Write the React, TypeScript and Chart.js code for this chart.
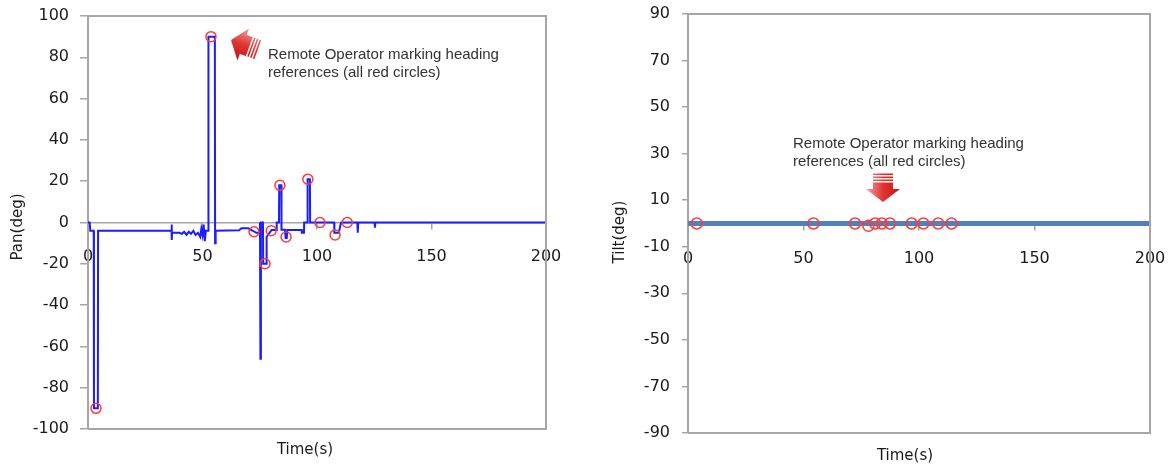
import React, { useEffect, useRef } from "react";
import { Chart, registerables } from "chart.js";

Chart.register(...registerables);

// ---------- data ----------
const timeTicks = [0, 50, 100, 150, 200];
const panTicks = [-100, -80, -60, -40, -20, 0, 20, 40, 60, 80, 100];
const tiltTicks = [-90, -70, -50, -30, -10, 10, 30, 50, 70, 90];

const panTime = [
  0, 0.7, 1.0, 2.5, 2.6, 4.3, 4.4, 36.5, 36.55, 36.6, 36.7, 40, 41, 42, 43, 44, 45, 46, 47, 48, 49, 49.5, 50,
  50.5, 51, 51.5, 52.5, 52.6, 55.4, 55.5, 55.7, 55.8, 66, 67, 70, 72, 73.5, 75.0, 75.1, 75.3, 75.5, 76.4,
  76.5, 77.8, 78.0, 80.2, 82.3, 82.4, 83.4, 83.5, 84.4, 84.5, 86, 86.3, 86.8, 87, 93.3, 93.4, 94.3, 94.4,
  95.8, 95.9, 96.9, 97, 107.5, 107.6, 109.5, 110.5, 117.6, 117.8, 118, 125.1, 125.3, 125.5, 200,
];
const panValue = [
  0, 0, -4, -4, -90, -90, -4, -4, -1, -8.5, -5, -5, -5.5, -4.5, -6, -4.5, -5.5, -4, -6, -5, -7, -3, -6,
  -1, -9, -4, -4, 90, 90, -10, -10, -4, -3.8, -2.8, -2.8, -4, -5, -5, 0, -66, 0, 0,
  -20, -20, -6.9, -3.6, -3.6, 0, 0, 18, 18, -3.5, -3.5, -7.5, -7.5, -3.6, -3.6, -5, -5, 0,
  0, 21, 21, 0, 0, -5, -5, 0, 0, -5, 0, 0, -2.5, 0, 0,
];

const panMarkTime = [3.5, 53.7, 72.5, 77.3, 80.0, 83.8, 86.5, 96.0, 101.3, 107.9, 113.2];
const panMarkValue = [-90, 90, -4.5, -20, -4, 18, -7, 21, 0, -6, 0];

const tiltTime = [0, 200];
const tiltValue = [0, 0];
const tiltMarkTime = [3.8, 54.3, 72.3, 78.1, 81.0, 83.9, 87.4, 96.8, 101.9, 108.3, 114.1];
const tiltMarkValue = [0, 0, 0, -1, 0, 0, 0, 0, 0, 0, 0];

const noteLines = ["Remote Operator marking heading", "references (all red circles)"];

// ---------- style ----------
const AXIS = "#a6a6a6";
const TICK_COLOR = "#1a1a1a";
const FAMILY = '"DejaVu Sans", Verdana, sans-serif';
const NOTE_FONT = '15px "Liberation Sans", Arial, sans-serif';

const toPts = (xs: number[], ys: number[]) => xs.map((x, i) => ({ x, y: ys[i] }));

function drawArrow(ctx: CanvasRenderingContext2D, x: number, y: number, angle: number) {
  ctx.save();
  ctx.translate(x, y);
  ctx.rotate(angle);
  const g = ctx.createLinearGradient(0, 17, 0, -17);
  g.addColorStop(0, "#f3a2a2");
  g.addColorStop(0.5, "#e03434");
  g.addColorStop(1, "#c41414");
  ctx.fillStyle = g;
  ctx.beginPath();
  ctx.moveTo(0, 0);
  ctx.lineTo(-13, 17);
  ctx.lineTo(-13, -17);
  ctx.closePath();
  ctx.fill();
  ctx.fillRect(-19.5, -10, 7, 20);
  [-22.5, -25.5, -28.5].forEach((s) => ctx.fillRect(s, -10, 1.6, 20));
  ctx.restore();
}

interface Spec {
  lineX: number[];
  lineY: number[];
  lineColor: string;
  lineWidth: number;
  markX: number[];
  markY: number[];
  markRadius: number;
  yTicks: number[];
  yMin: number;
  yMax: number;
  yTitle: string;
  padding: { top: number; right: number; bottom: number; left: number };
  yAxisWidth: number;
  yTickLength: number;
  yTickPadding: number;
  xTickPadding: number;
  yTitlePos: [number, number];
  xTitlePos: [number, number];
  note: { t: number; v: number };
  arrow: { t: number; v: number; angle: number };
}

const panSpec: Spec = {
  lineX: panTime,
  lineY: panValue,
  lineColor: "#1c1cff",
  lineWidth: 2,
  markX: panMarkTime,
  markY: panMarkValue,
  markRadius: 5,
  yTicks: panTicks,
  yMin: -100,
  yMax: 100,
  yTitle: "Pan(deg)",
  padding: { top: 16, right: 24, bottom: 40, left: 0 },
  yAxisWidth: 88,
  yTickLength: 8,
  yTickPadding: 11,
  xTickPadding: 19,
  yTitlePos: [18, 227],
  xTitlePos: [305, 450],
  note: { t: 78.6, v: 79.1 },
  arrow: { t: 62.45, v: 88.4, angle: (200 * Math.PI) / 180 },
};

const tiltSpec: Spec = {
  lineX: tiltTime,
  lineY: tiltValue,
  lineColor: "#4f81bd",
  lineWidth: 5,
  markX: tiltMarkTime,
  markY: tiltMarkValue,
  markRadius: 5.5,
  yTicks: tiltTicks,
  yMin: -90,
  yMax: 90,
  yTitle: "Tilt(deg)",
  padding: { top: 14, right: 22, bottom: 36, left: 0 },
  yAxisWidth: 88,
  yTickLength: 6,
  yTickPadding: 12,
  xTickPadding: 20,
  yTitlePos: [20, 232],
  xTitlePos: [305, 456],
  note: { t: 45.45, v: 32.4 },
  arrow: { t: 84.4, v: 9.24, angle: Math.PI / 2 },
};

function decorPlugin(spec: Spec) {
  return {
    id: "decor",
    afterDraw(chart: any) {
      const { ctx, chartArea: a, scales } = chart;
      const xs = scales.x;
      const ys = scales.y;
      ctx.save();
      ctx.strokeStyle = AXIS;
      ctx.lineWidth = 2;
      ctx.beginPath();
      ctx.moveTo(a.left, a.top);
      ctx.lineTo(a.right, a.top);
      ctx.lineTo(a.right, a.bottom);
      ctx.lineTo(a.left, a.bottom);
      ctx.stroke();

      ctx.fillStyle = "#333333";
      ctx.font = NOTE_FONT;
      ctx.textAlign = "left";
      ctx.textBaseline = "alphabetic";
      const nx = xs.getPixelForValue(spec.note.t);
      const ny = ys.getPixelForValue(spec.note.v);
      noteLines.forEach((l, i) => ctx.fillText(l, nx, ny + i * 17.5));

      drawArrow(ctx, xs.getPixelForValue(spec.arrow.t), ys.getPixelForValue(spec.arrow.v), spec.arrow.angle);

      ctx.fillStyle = TICK_COLOR;
      ctx.font = `15px ${FAMILY}`;
      ctx.textAlign = "center";
      ctx.textBaseline = "middle";
      ctx.fillText("Time(s)", spec.xTitlePos[0], spec.xTitlePos[1]);
      ctx.translate(spec.yTitlePos[0], spec.yTitlePos[1]);
      ctx.rotate(-Math.PI / 2);
      ctx.fillText(spec.yTitle, 0, 0);
      ctx.restore();
    },
  };
}

function buildConfig(spec: Spec): any {
  const tickFont = { family: FAMILY, size: 16 };
  return {
    type: "scatter",
    data: {
      datasets: [
        {
          label: "marks",
          data: toPts(spec.markX, spec.markY),
          showLine: false,
          pointRadius: spec.markRadius,
          pointHoverRadius: spec.markRadius,
          pointBorderColor: "#ff3b3b",
          pointBackgroundColor: "rgba(0,0,0,0)",
          pointBorderWidth: 1.5,
        },
        {
          label: "line",
          data: toPts(spec.lineX, spec.lineY),
          showLine: true,
          borderColor: spec.lineColor,
          borderWidth: spec.lineWidth,
          pointRadius: 0,
          tension: 0,
          fill: false,
        },
      ],
    },
    options: {
      animation: false,
      responsive: false,
      events: [],
      layout: { padding: spec.padding },
      plugins: { legend: { display: false }, tooltip: { enabled: false }, title: { display: false } },
      scales: {
        x: {
          type: "linear",
          min: 0,
          max: 200,
          position: { y: 0 },
          afterBuildTicks: (s: any) => {
            s.ticks = timeTicks.map((v) => ({ value: v }));
          },
          afterFit: (s: any) => {
            s.paddingLeft = 0;
            s.paddingRight = 0;
            s.paddingTop = 0;
            s.paddingBottom = 0;
          },
          grid: { drawOnChartArea: false, drawTicks: true, tickLength: 6, color: AXIS, lineWidth: 1.5 },
          border: { display: true, color: AXIS, width: 1.5 },
          ticks: { font: tickFont, color: TICK_COLOR, padding: spec.xTickPadding, maxRotation: 0, autoSkip: false, callback: (v: any) => String(v) },
        },
        y: {
          type: "linear",
          min: spec.yMin,
          max: spec.yMax,
          position: "left",
          afterBuildTicks: (s: any) => {
            s.ticks = spec.yTicks.map((v) => ({ value: v }));
          },
          afterFit: (s: any) => {
            s.width = spec.yAxisWidth;
            s.paddingLeft = 0;
            s.paddingRight = 0;
            s.paddingTop = 0;
            s.paddingBottom = 0;
          },
          grid: { drawOnChartArea: false, drawTicks: true, tickLength: spec.yTickLength, color: AXIS, lineWidth: 1.5 },
          border: { display: true, color: AXIS, width: 2 },
          ticks: { font: tickFont, color: TICK_COLOR, padding: spec.yTickPadding, autoSkip: false, callback: (v: any) => String(v) },
        },
      },
    },
    plugins: [decorPlugin(spec)],
  };
}

function Panel({ spec, left, width }: { spec: Spec; left: number; width: number }) {
  const ref = useRef<HTMLCanvasElement>(null);
  useEffect(() => {
    const chart = new Chart(ref.current as HTMLCanvasElement, buildConfig(spec));
    return () => chart.destroy();
  }, [spec]);
  return (
    <canvas
      ref={ref}
      width={width}
      height={469}
      style={{ position: "absolute", left, top: 0, width, height: 469, display: "block" }}
    />
  );
}

export default function App() {
  return (
    <div style={{ position: "absolute", left: 0, top: 0, width: 1172, height: 469, background: "#ffffff", overflow: "hidden" }}>
      <Panel spec={panSpec} left={0} width={570} />
      <Panel spec={tiltSpec} left={600} width={572} />
    </div>
  );
}
